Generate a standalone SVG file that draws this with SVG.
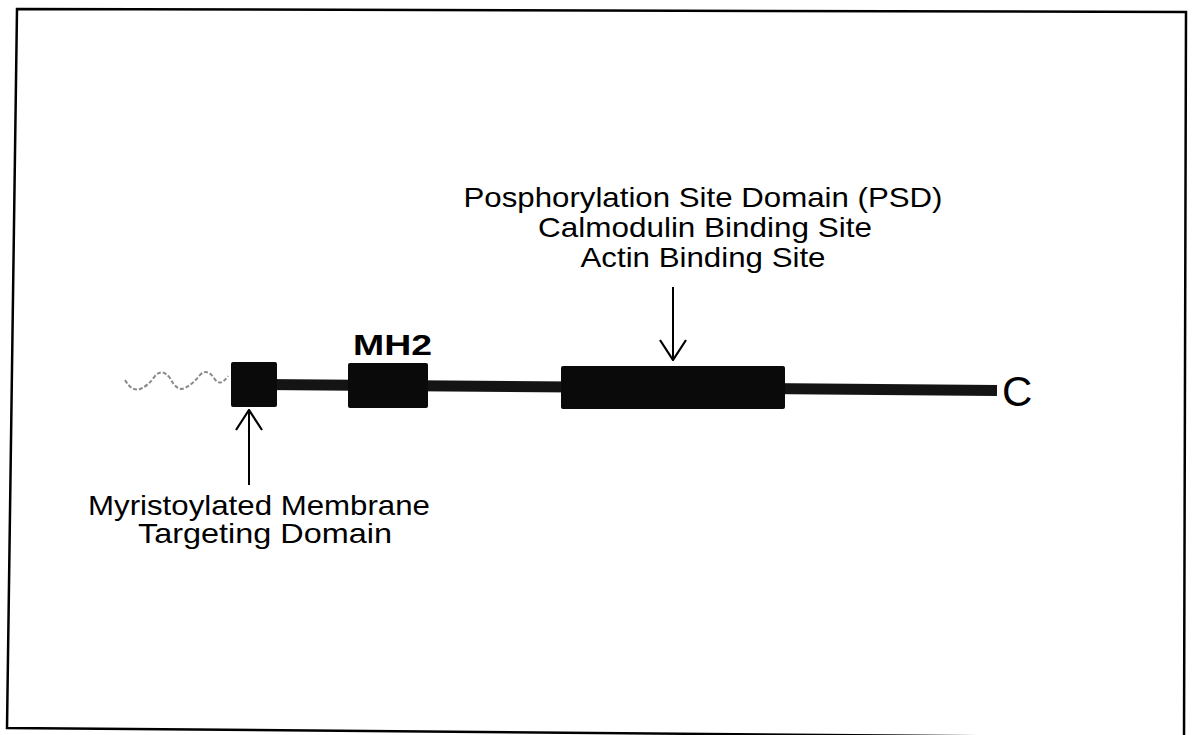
<svg xmlns="http://www.w3.org/2000/svg" width="1195" height="735" viewBox="0 0 1195 735">
  <style>
    .lbl { font-family: "Liberation Sans", Arial, sans-serif; font-size: 28px; fill: #000; }
    .bold { font-weight: bold; }
    .big { font-size: 42px; }
    .mh { font-size: 30px; }
    .dom { fill: #0a0a0a; }
    .conn { stroke: #000; stroke-width: 2; fill: none; }
  </style>
  <defs>
    <marker id="openArrow" viewBox="0 0 22 28" refX="21" refY="14" markerWidth="22" markerHeight="28" markerUnits="userSpaceOnUse" orient="auto">
      <path d="M1,1 L21,14 L1,27" fill="none" stroke="#000" stroke-width="2.2"/>
    </marker>
  </defs>
  <rect width="1195" height="735" fill="#fff"/>
  <g id="frame">
    <polygon points="17,9 1186,12 1184,738 7,728" fill="none" stroke="#000" stroke-width="2.5"/>
  </g>
  <g id="myristoyl-tail">
    <path d="M125,380 Q132,392 140,389 Q148,386 155,376 Q162,368 170,378 Q177,392 185,388 Q193,384 200,375 Q207,368 214,378 Q220,388 228,376" fill="none" stroke="#8a8a8a" stroke-width="2" stroke-dasharray="4 2"/>
  </g>
  <g id="backbone">
    <line x1="262" y1="384.5" x2="997" y2="390.5" stroke="#141414" stroke-width="11"/>
  </g>
  <g id="myristoylated-domain">
    <rect class="dom" x="231" y="362" width="46" height="45" rx="2"/>
  </g>
  <g id="mh2">
    <rect class="dom" x="348" y="363" width="80" height="45" rx="2"/>
    <text class="lbl bold mh" x="353" y="355" textLength="79" lengthAdjust="spacingAndGlyphs">MH2</text>
  </g>
  <g id="psd">
    <rect class="dom" x="561" y="366" width="224" height="43" rx="2"/>
  </g>
  <g id="c-terminus">
    <text class="lbl big" x="1002" y="406">C</text>
  </g>
  <g id="psd-label">
    <text class="lbl" x="703" y="207" text-anchor="middle" textLength="479" lengthAdjust="spacingAndGlyphs">Posphorylation Site Domain (PSD)</text>
    <text class="lbl" x="705" y="237" text-anchor="middle" textLength="334" lengthAdjust="spacingAndGlyphs">Calmodulin Binding Site</text>
    <text class="lbl" x="703" y="267" text-anchor="middle" textLength="245" lengthAdjust="spacingAndGlyphs">Actin Binding Site</text>
  </g>
  <g id="myristoyl-label">
    <text class="lbl" x="259" y="515" text-anchor="middle" textLength="342" lengthAdjust="spacingAndGlyphs">Myristoylated Membrane</text>
    <text class="lbl" x="265" y="543" text-anchor="middle" textLength="254" lengthAdjust="spacingAndGlyphs">Targeting Domain</text>
  </g>
  <g id="connectors">
    <line class="conn" x1="673" y1="287" x2="673" y2="360" marker-end="url(#openArrow)"/>
    <line class="conn" x1="249" y1="485" x2="249" y2="410" marker-end="url(#openArrow)"/>
  </g>
</svg>
